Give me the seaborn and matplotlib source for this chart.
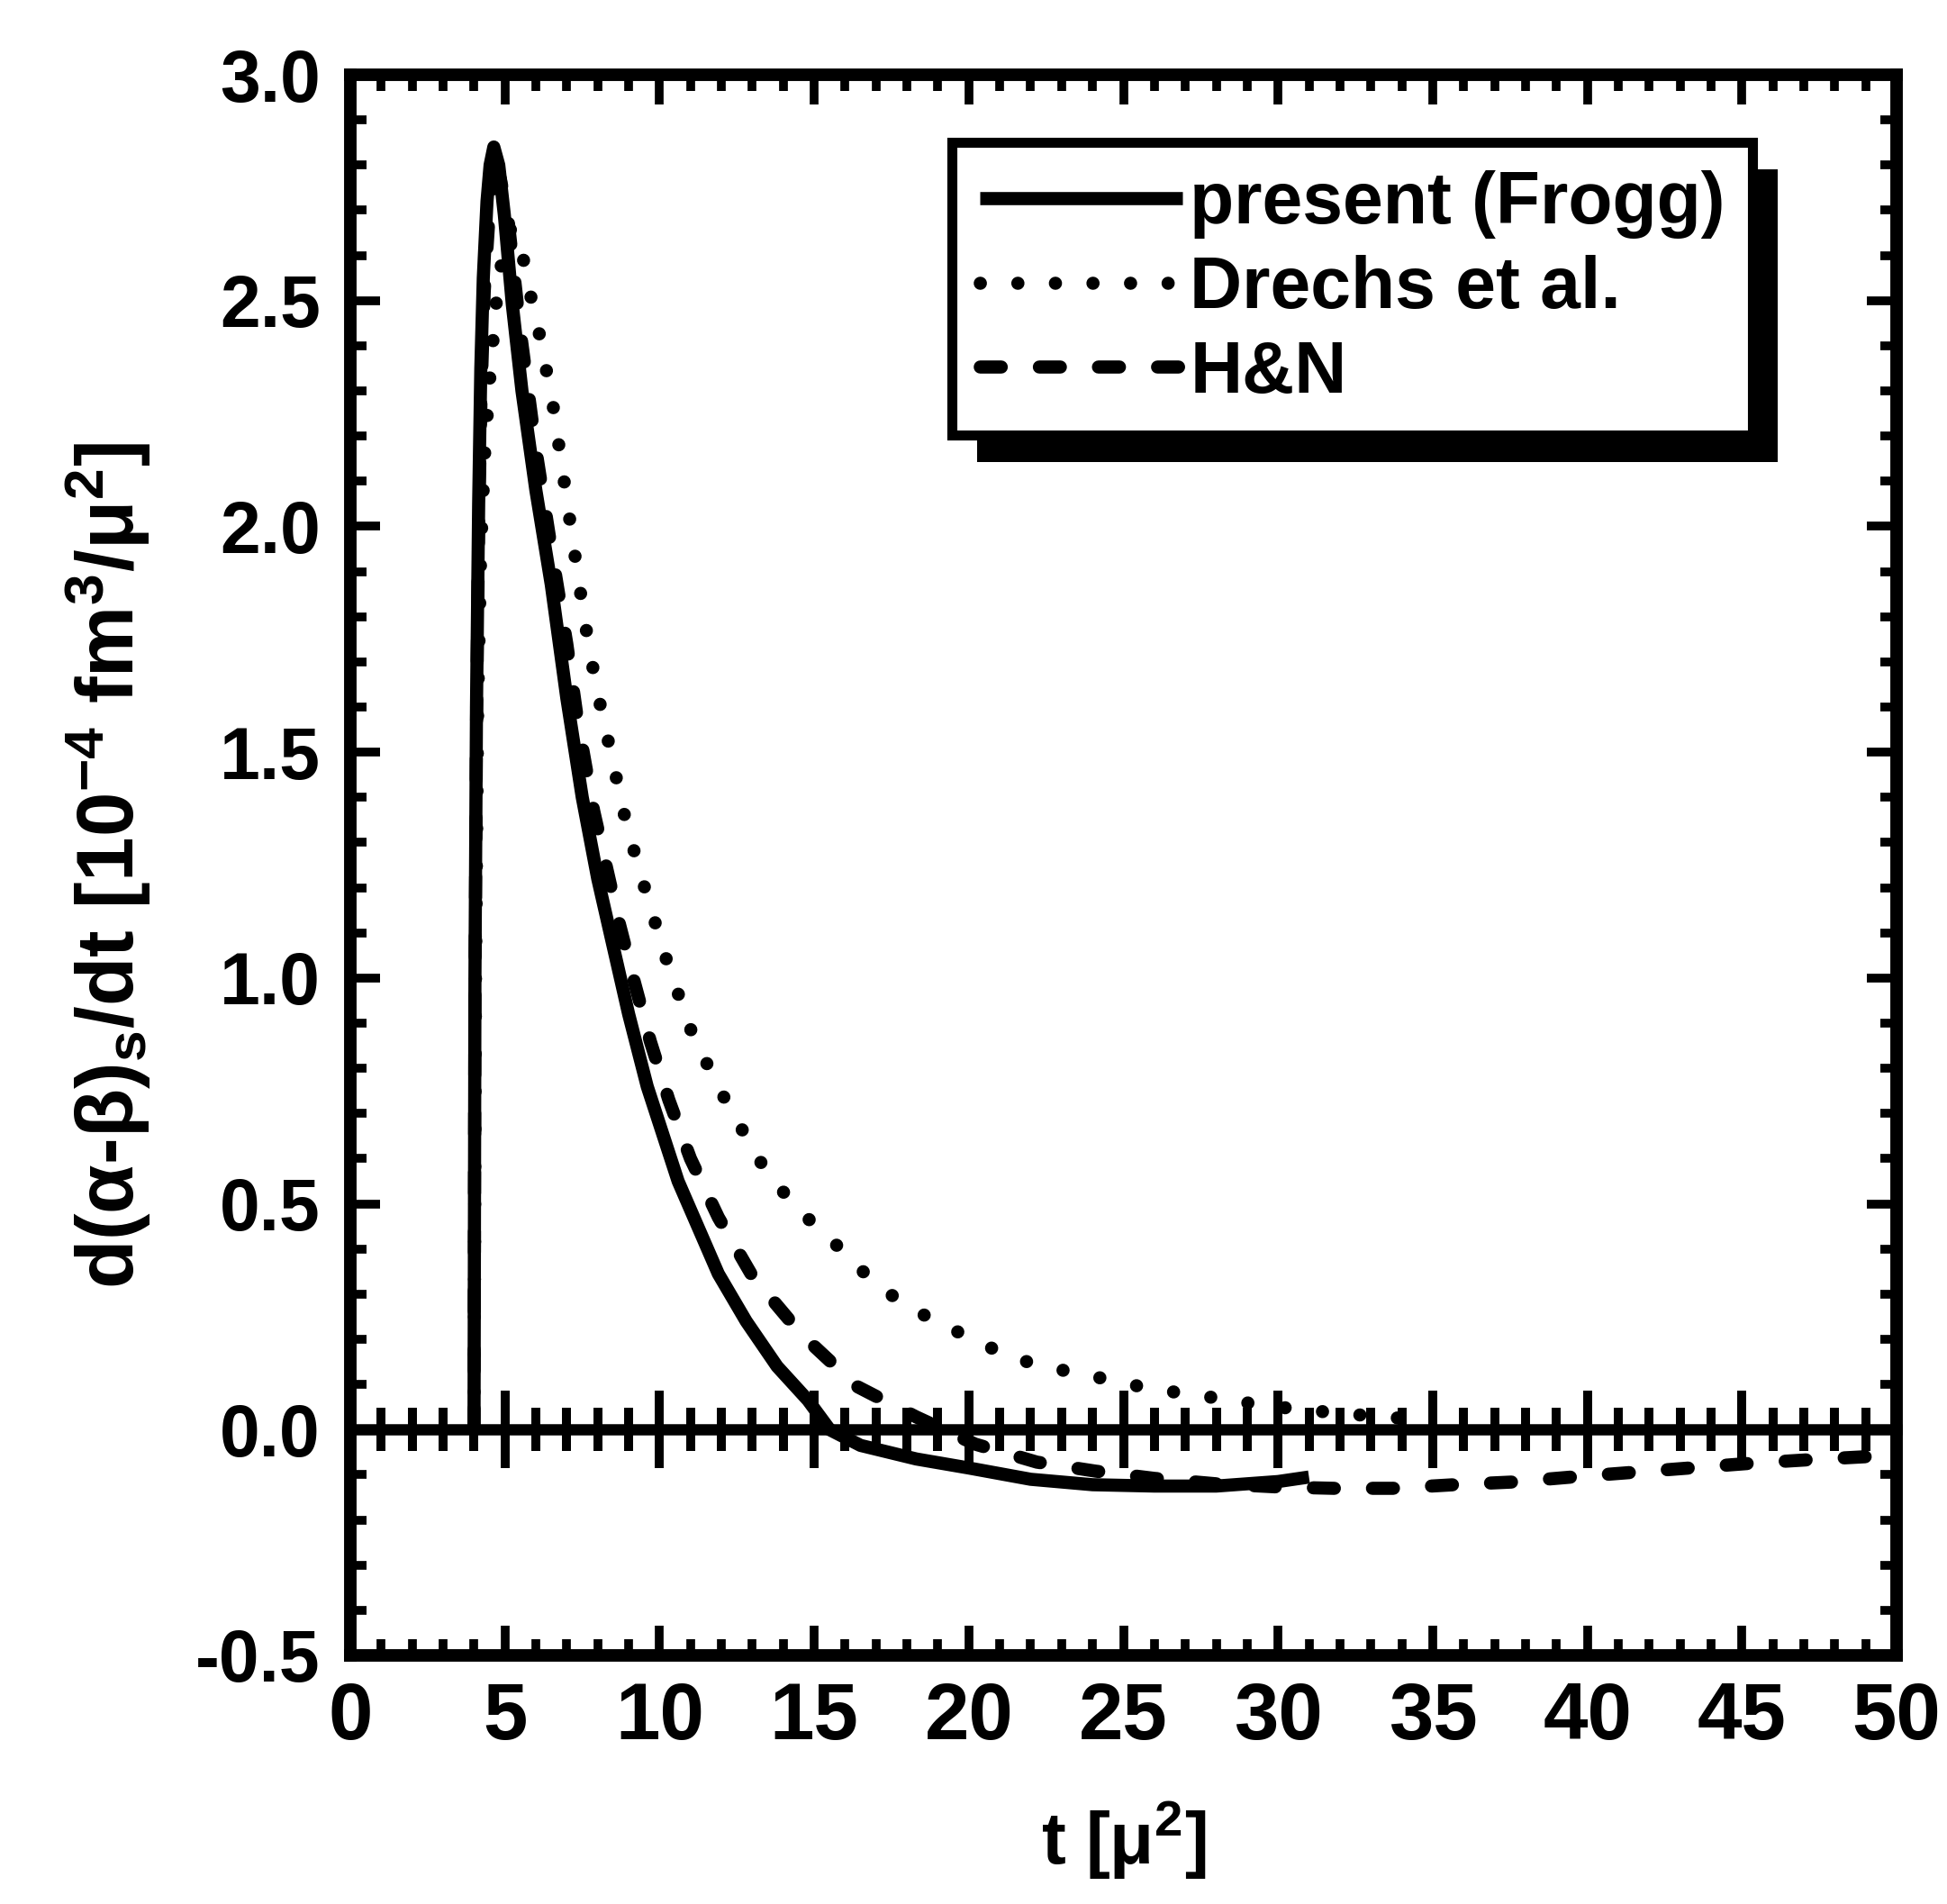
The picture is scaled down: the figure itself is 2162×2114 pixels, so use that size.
import numpy as np
import pandas as pd
import matplotlib
matplotlib.use("Agg")
import matplotlib.pyplot as plt
import seaborn as sns
from matplotlib.ticker import MultipleLocator, FormatStrFormatter
from matplotlib.patches import Rectangle
from matplotlib.transforms import IdentityTransform

# ---------------- data ----------------
t_present = [4.0, 4.03, 4.08, 4.15, 4.22, 4.3, 4.42, 4.52, 4.64, 4.8, 4.98, 5.24, 5.55,
             6.0, 6.5, 7.0, 7.5, 8.0, 8.5, 9.0, 9.6, 10.6, 11.9, 12.8, 13.8, 14.8,
             15.5, 16.5, 18.3, 20.0, 22.0, 24.0, 26.0, 28.0, 30.0, 31.0]
v_present = [0.0, 1.0, 1.6, 2.05, 2.35, 2.55, 2.72, 2.8, 2.84, 2.8, 2.69, 2.49, 2.3,
             2.08, 1.87, 1.62, 1.40, 1.22, 1.07, 0.92, 0.76, 0.55, 0.345, 0.24, 0.14, 0.065,
             0.0, -0.035, -0.065, -0.085, -0.11, -0.122, -0.125, -0.125, -0.115, -0.105]

t_drechs = [4.0, 4.05, 4.12, 4.22, 4.35, 4.5, 4.75, 5.0, 5.2, 5.4, 5.6, 5.8, 6.1, 6.3,
            6.55, 7.0, 7.36, 7.7, 8.0, 8.42, 8.93, 9.6, 10.27, 11.09, 12.2, 13.5, 14.6,
            15.7, 16.8, 17.9, 19.05, 20.2, 21.3, 22.4, 23.6, 24.7, 25.9, 27.0, 28.2,
            29.3, 30.4, 32.0, 34.0]
v_drechs = [0.0, 1.0, 1.6, 1.95, 2.17, 2.32, 2.52, 2.63, 2.66, 2.65, 2.59, 2.52, 2.43, 2.36,
            2.27, 2.06, 1.89, 1.74, 1.63, 1.5, 1.34, 1.18, 1.03, 0.87, 0.72, 0.565, 0.48,
            0.41, 0.335, 0.277, 0.236, 0.198, 0.162, 0.14, 0.124, 0.108, 0.09, 0.08, 0.068,
            0.056, 0.047, 0.036, 0.025]

t_hn = [4.0, 4.03, 4.08, 4.15, 4.23, 4.33, 4.47, 4.65, 4.85, 5.1, 5.5, 6.0, 6.5, 7.0,
        7.35, 7.87, 8.3, 8.7, 9.15, 9.7, 10.3, 11.0, 11.9, 13.0, 14.6, 16.4, 18.3,
        20.2, 22.2, 24.1, 26.0, 28.0, 30.0, 31.8, 33.7, 35.7, 37.6, 39.5, 41.4, 43.3,
        45.2, 47.1, 49.0, 50.0]
v_hn = [0.0, 0.95, 1.55, 2.0, 2.3, 2.52, 2.67, 2.76, 2.77, 2.68, 2.43, 2.17, 1.95, 1.74,
        1.57, 1.37, 1.24, 1.12, 1.0, 0.86, 0.73, 0.60, 0.47, 0.34, 0.21, 0.095, 0.028,
        -0.032, -0.072, -0.092, -0.108, -0.12, -0.127, -0.13, -0.13, -0.122, -0.116,
        -0.105, -0.095, -0.085, -0.075, -0.067, -0.06, -0.056]

labels = ["present (Frogg)", "Drechs et al.", "H&N"]
x_ticks = list(range(0, 51, 5))
y_ticks = [-0.5, 0.0, 0.5, 1.0, 1.5, 2.0, 2.5, 3.0]

# ---------------- style ----------------
sns.set_style("ticks")
plt.rcParams["font.family"] = ["Liberation Sans", "DejaVu Sans"]
plt.rcParams["font.weight"] = "bold"
plt.rcParams["axes.labelweight"] = "bold"
plt.rcParams["axes.unicode_minus"] = False
plt.rcParams["mathtext.default"] = "regular"
for key in ["text.color", "axes.labelcolor", "xtick.color", "ytick.color",
            "xtick.labelcolor", "ytick.labelcolor", "axes.edgecolor"]:
    plt.rcParams[key] = "black"

fig = plt.figure(figsize=(21.62, 21.14), dpi=100)
ax = fig.add_axes([389 / 2162, 1 - 1838 / 2114, (2106 - 389) / 2162, (1838 - 83) / 2114])

LW = 10.5
df_p = pd.DataFrame({"t": t_present, "v": v_present})
df_d = pd.DataFrame({"t": t_drechs, "v": v_drechs})
df_h = pd.DataFrame({"t": t_hn, "v": v_hn})

sns.lineplot(data=df_p, x="t", y="v", ax=ax, color="black", lw=LW, label=labels[0],
             estimator=None, sort=False, solid_capstyle="butt", solid_joinstyle="round")
sns.lineplot(data=df_d, x="t", y="v", ax=ax, color="black", lw=LW, label=labels[1],
             estimator=None, sort=False, linestyle=(0, (0.01, 2.85)), dash_capstyle="round")
sns.lineplot(data=df_h, x="t", y="v", ax=ax, color="black", lw=LW, label=labels[2],
             estimator=None, sort=False, linestyle=(0, (1.6, 2.9)), dash_capstyle="round")

ax.set_xlim(0, 50)
ax.set_ylim(-0.5, 3.0)
ax.set_xticks(x_ticks)
ax.set_yticks(y_ticks)
ax.xaxis.set_minor_locator(MultipleLocator(1))
ax.yaxis.set_minor_locator(MultipleLocator(0.1))
ax.yaxis.set_major_formatter(FormatStrFormatter("%.1f"))

for s in ax.spines.values():
    s.set_linewidth(10)
    s.set_color("black")

ax.tick_params(which="both", direction="in", top=True, right=True, width=7, color="black",
               labelcolor="black")
ax.tick_params(which="major", length=24)
ax.tick_params(which="minor", length=13)
ax.tick_params(axis="x", labelsize=64, pad=20)
ax.tick_params(axis="y", labelsize=58, pad=24)
for lab in ax.get_xticklabels() + ax.get_yticklabels():
    lab.set_fontweight("bold")

# zero line with ticks on both sides
sec = ax.secondary_xaxis(0.5 / 3.5)
sec.xaxis.set_major_locator(MultipleLocator(5))
sec.xaxis.set_minor_locator(MultipleLocator(1))
for s in sec.spines.values():
    s.set_linewidth(9)
    s.set_color("black")
sec.tick_params(which="both", direction="inout", width=7, top=True, bottom=True,
                labelbottom=False, labeltop=False, color="black")
sec.tick_params(which="major", length=62)
sec.tick_params(which="minor", length=34)

ax.set_xlabel("t [μ$^{2}$]", fontsize=58, fontweight="bold", labelpad=34, color="black")
ax.set_ylabel("d(α-β)$_{s}$/dt [10$^{-4}$ fm$^{3}$/μ$^{2}$]", fontsize=64,
              fontweight="bold", labelpad=34, color="black")

leg = ax.legend(loc="upper left", bbox_to_anchor=(0.389, 0.957), borderaxespad=0,
                prop={"size": 58, "weight": "bold"}, handlelength=2.8, handletextpad=0.1,
                labelspacing=0.22, borderpad=0.38, frameon=True, fancybox=False,
                edgecolor="black", framealpha=1)
leg.get_frame().set_linewidth(8)
for txt in leg.get_texts():
    txt.set_color("black")
leg.set_zorder(6)

fig.canvas.draw()
bb = leg.get_frame().get_window_extent()
shadow = Rectangle((bb.x0 + 28, bb.y0 - 30), bb.width, bb.height, transform=IdentityTransform(),
                   facecolor="black", edgecolor="none", zorder=5.5)
ax.add_artist(shadow)

fig.savefig("out.png", dpi=100)
